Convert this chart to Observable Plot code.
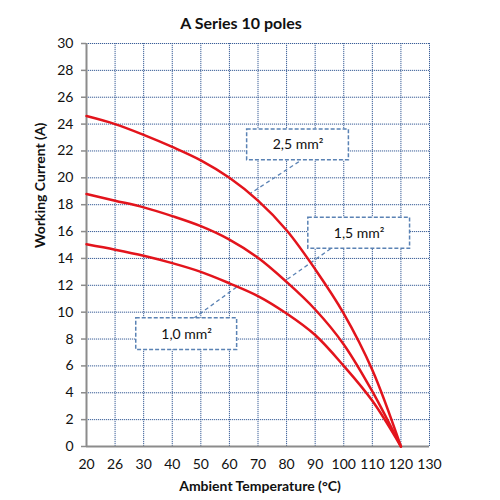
<!DOCTYPE html>
<html>
<head>
<meta charset="utf-8">
<script src="https://cdn.jsdelivr.net/npm/d3@7"></script>
<script src="https://cdn.jsdelivr.net/npm/@observablehq/plot@0.6"></script>
<style>
  body { margin: 0; background: #fff; font-family: Lato, "Open Sans", sans-serif; }
  #title { width: 482px; height: 16px; padding-top: 15px; text-align: center;
           font: bold 16px/16px Lato, "Open Sans", sans-serif; color: #111; }
</style>
</head>
<body>
<div id="title">A Series 10 poles</div>
<div id="chart"></div>
<script>
// Derating curves: working current vs ambient temperature per wire cross-section
const temps = [20, 26, 30, 40, 50, 60, 70, 80, 90, 100, 110, 120];
const current25 = [24.6, 24.0, 23.2, 22.3, 21.3, 20.0, 18.3, 16.1, 13.2, 9.9, 5.7, 0];
const current15 = [18.8, 18.3, 17.8, 17.15, 16.4, 15.4, 14.05, 12.25, 10.2, 7.6, 4.1, 0];
const current10 = [15.05, 14.65, 14.2, 13.65, 13.0, 12.15, 11.2, 9.9, 8.3, 6.0, 3.4, 0];
const sections = ["2,5 mm²", "1,5 mm²", "1,0 mm²"];

// Category axis: evenly spaced temperature labels
const xTickLabels = [20, 26, 30, 40, 50, 60, 70, 80, 90, 100, 110, 120, 130];
const yTicks = d3.range(0, 31, 2);

// Temperature -> category position (piecewise linear between the labels)
const toSlot = d3.scaleLinear().domain(xTickLabels).range(d3.range(xTickLabels.length));

const series = [current25, current15, current10];
const rows = series.flatMap((vals, s) =>
  temps.map((t, i) => ({section: sections[s], slot: toSlot(t), current: vals[i]})));

// Callout boxes (category position / current units) and their leader lines
const callouts = [
  {label: sections[0], x1: 5.62, x2: 9.18, y1: 21.3, y2: 23.59, lx1: 7.43, ly1: 21.2, lx2: 5.74, ly2: 18.85},
  {label: sections[1], x1: 7.76, x2: 11.32, y1: 14.72, y2: 17.03, lx1: 8.54, ly1: 14.72, lx2: 6.96, ly2: 12.35},
  {label: sections[2], x1: 1.74, x2: 5.27, y1: 7.19, y2: 9.54, lx1: 3.75, ly1: 9.54, lx2: 5.27, ly2: 11.9}
];

const gridColor = "#3b5f98";
const axisColor = "#8c8c8c";
const calloutColor = "#5a82b4";

const chart = Plot.plot({
  width: 500,
  height: 469,
  marginTop: 12,
  marginBottom: 54,
  marginLeft: 86,
  marginRight: 71,
  style: {fontFamily: "Lato, 'Open Sans', sans-serif", color: "#111", background: "#fff"},
  x: {type: "linear", domain: [0, xTickLabels.length - 1]},
  y: {domain: [0, 30]},
  marks: [
    // dotted grid
    Plot.ruleX(d3.range(1, xTickLabels.length), {stroke: gridColor, strokeWidth: 1, strokeDasharray: "1.2,0.8"}),
    Plot.ruleY(yTicks.filter(v => v > 0), {stroke: gridColor, strokeWidth: 1, strokeDasharray: "1.2,0.8"}),
    // axis lines
    Plot.ruleX([0], {stroke: axisColor, strokeWidth: 2}),
    Plot.ruleY([0], {stroke: axisColor, strokeWidth: 2, x1: 0, x2: xTickLabels.length - 1}),
    Plot.axisY(yTicks, {tickSize: 5, tickPadding: 8, fontSize: 14, stroke: axisColor, strokeWidth: 1.5, label: null}),
    Plot.axisX(d3.range(xTickLabels.length), {tickSize: 0, tickPadding: 13, fontSize: 14,
      tickFormat: i => xTickLabels[i], label: null}),
    // leader lines
    Plot.link(callouts, {x1: "lx1", y1: "ly1", x2: "lx2", y2: "ly2", stroke: calloutColor,
      strokeWidth: 1.3, strokeDasharray: "4,3"}),
    // derating curves
    Plot.line(rows, {x: "slot", y: "current", z: "section", stroke: "#e3141c", strokeWidth: 2.5,
      curve: "catmull-rom"}),
    // callout boxes
    Plot.rect(callouts, {x1: "x1", x2: "x2", y1: "y1", y2: "y2", fill: "#fff", stroke: calloutColor,
      strokeWidth: 1.5, strokeDasharray: "4,2"}),
    Plot.text(callouts, {x: d => (d.x1 + d.x2) / 2, y: d => (d.y1 + d.y2) / 2, text: "label",
      fontSize: 14, fill: "#111"}),
    // axis titles
    Plot.text(["Ambient Temperature (°C)"], {frameAnchor: "bottom", dx: 2, dy: 44, fontSize: 14,
      fontWeight: "bold", fill: "#111"}),
    Plot.text(["Working Current (A)"], {frameAnchor: "left", dx: -46, dy: 3, rotate: -90, fontSize: 14,
      fontWeight: "bold", fill: "#111"})
  ]
});
document.getElementById("chart").appendChild(chart);
</script>
</body>
</html>
